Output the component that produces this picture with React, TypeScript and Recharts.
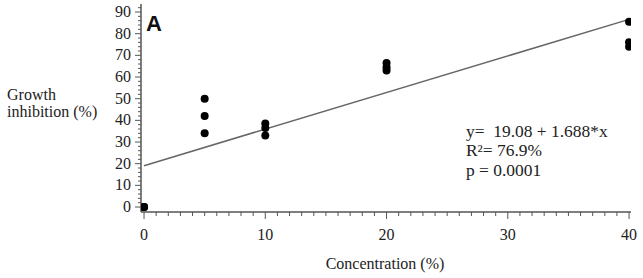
import { ScatterChart, Scatter, XAxis, YAxis, ReferenceArea } from "recharts";

// replicate measurements
const concentration = [0, 0, 0, 5, 5, 5, 10, 10, 10, 20, 20, 20, 40, 40, 40];
const inhibition = [0, 0, 0, 50, 42, 34, 38.5, 36.5, 33, 66.5, 64.5, 63, 85.5, 76, 74];

// fitted model y = b0 + b1*x
const intercept = 19.08;
const slope = 1.688;
const fitRange = [0, 40];

const xTicks = [
  0, 1, 2, 3, 4, 5, 6, 7, 8, 9, 10, 11, 12, 13, 14, 15, 16, 17, 18, 19, 20,
  21, 22, 23, 24, 25, 26, 27, 28, 29, 30, 31, 32, 33, 34, 35, 36, 37, 38, 39, 40,
];
const yTicks = [
  0, 2, 4, 6, 8, 10, 12, 14, 16, 18, 20, 22, 24, 26, 28, 30, 32, 34, 36, 38, 40,
  42, 44, 46, 48, 50, 52, 54, 56, 58, 60, 62, 64, 66, 68, 70, 72, 74, 76, 78, 80,
  82, 84, 86, 88, 90, 92,
];
const statLines = ["y=  19.08 + 1.688*x", "R²= 76.9%", "p = 0.0001"];

const points = concentration.map((x, i) => ({ x, y: inhibition[i] }));
const fit = fitRange.map((x) => ({ x, y: intercept + slope * x }));

const serif = { fontFamily: "Liberation Serif, DejaVu Serif, serif", fontSize: 16 };
const axisColor = "#555";
const textColor = "#222";
const xDomain = [-0.25, 40.16];
const yDomain = [-2.3, 93.7];

const XTick = (props: any) => {
  const { x, y, payload } = props;
  const major = payload.value % 10 === 0;
  return (
    <g>
      <line x1={x} y1={y} x2={x} y2={y + (major ? 7 : 4)} stroke={axisColor} strokeWidth={1} />
      {major && (
        <text x={x} y={y + 28} textAnchor="middle" style={serif} fill={textColor}>
          {payload.value}
        </text>
      )}
    </g>
  );
};

const YTick = (props: any) => {
  const { x, y, payload } = props;
  const major = payload.value % 10 === 0;
  return (
    <g>
      <line x1={x} y1={y} x2={x - (major ? 6 : 3)} y2={y} stroke={axisColor} strokeWidth={1} />
      {major && (
        <text x={x - 10} y={y + 5} textAnchor="end" style={serif} fill={textColor}>
          {payload.value}
        </text>
      )}
    </g>
  );
};

const Dot = (props: any) => <circle cx={props.cx} cy={props.cy} r={4} fill="#000" />;

const PanelText = () => (
  <g>
    <text style={serif} fill={textColor}>
      <tspan x={7} y={100}>Growth</tspan>
      <tspan x={7} y={117}>inhibition (%)</tspan>
    </text>
    <text x={146} y={31} style={{ fontFamily: "Liberation Sans, Arial, sans-serif", fontWeight: "bold", fontSize: 22 }} fill="#111">
      A
    </text>
    <g transform="translate(466,0) scale(1.09,1)">
      <text style={{ ...serif, whiteSpace: "pre" }} fill={textColor}>
        {statLines.map((s, i) => (
          <tspan key={i} x={0} y={137 + i * 19.5}>
            {s}
          </tspan>
        ))}
      </text>
    </g>
  </g>
);

export default function App() {
  return (
    <div style={{ position: "absolute", left: 0, top: 0, background: "#fff" }}>
      <ScatterChart width={643} height={278} margin={{ top: 4, right: 12, bottom: 0, left: 0 }}>
        <XAxis
          dataKey="x"
          type="number"
          domain={xDomain}
          ticks={xTicks}
          interval={0}
          allowDataOverflow
          height={66}
          tickSize={0}
          tickMargin={0}
          tickLine={false}
          tick={<XTick />}
          axisLine={{ stroke: axisColor, strokeWidth: 1.5 }}
          label={{
            content: () => (
              <text x={385} y={269} textAnchor="middle" style={serif} fill={textColor}>
                Concentration (%)
              </text>
            ),
          }}
        />
        <YAxis
          dataKey="y"
          type="number"
          domain={yDomain}
          ticks={yTicks}
          interval={0}
          allowDataOverflow
          width={141}
          tickSize={0}
          tickMargin={0}
          tickLine={false}
          tick={<YTick />}
          axisLine={{ stroke: axisColor, strokeWidth: 1.5 }}
          label={{ content: () => <PanelText /> }}
        />
        <ReferenceArea fill="none" stroke={axisColor} strokeWidth={1.5} ifOverflow="visible" />
        <Scatter
          data={fit}
          line={{ stroke: "#666", strokeWidth: 1.5 }}
          shape={() => <g />}
          isAnimationActive={false}
        />
        <Scatter data={points} shape={<Dot />} isAnimationActive={false} />
      </ScatterChart>
    </div>
  );
}
